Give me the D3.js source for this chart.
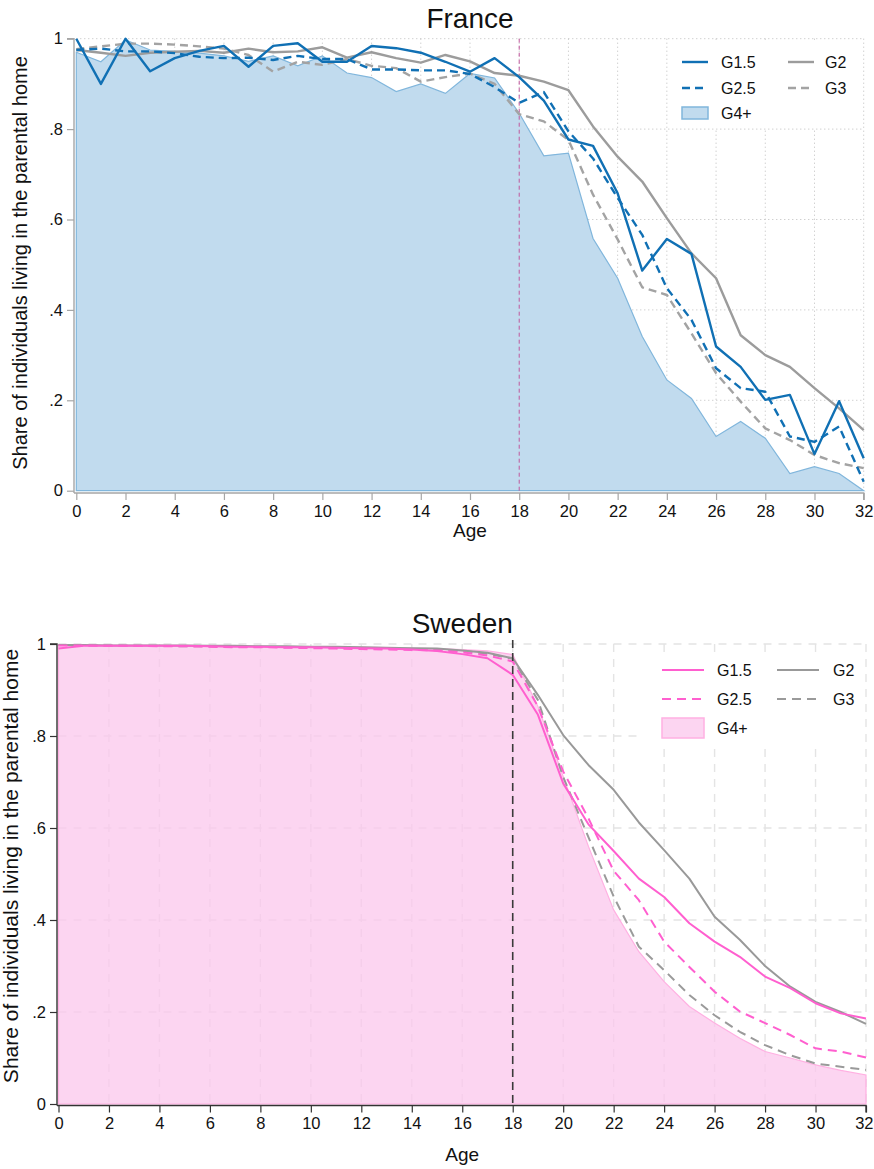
<!DOCTYPE html>
<html>
<head>
<meta charset="utf-8">
<script src="https://cdn.jsdelivr.net/npm/d3@7"></script>
<style>
  body { margin: 0; background: #fff; }
  svg { display: block; font-family: "Liberation Sans", Arial, Helvetica, sans-serif; }
</style>
</head>
<body>
<svg id="chart" width="874" height="1169"></svg>
<script>
// ---- data -----------------------------------------------------------
const ages = [0,1,2,3,4,5,6,7,8,9,10,11,12,13,14,15,16,17,18,19,20,21,22,23,24,25,26,27,28,29,30,31,32];
const xTicks = [0,2,4,6,8,10,12,14,16,18,20,22,24,26,28,30,32];
const yTicks = [0, 0.2, 0.4, 0.6, 0.8, 1];
const yTickLabels = ["0", ".2", ".4", ".6", ".8", "1"];
const legendLabels = ["G1.5", "G2", "G2.5", "G3", "G4+"];
const cutoffAge = 18;

const franceG15 = [1.000,0.900,1.000,0.928,0.957,0.973,0.984,0.938,0.984,0.990,0.949,0.949,0.984,0.979,0.969,0.949,0.927,0.957,0.915,0.863,0.777,0.763,0.658,0.487,0.557,0.524,0.319,0.274,0.201,0.212,0.081,0.198,0.072];
const franceG2  = [0.975,0.969,0.962,0.969,0.971,0.973,0.969,0.978,0.970,0.972,0.981,0.958,0.970,0.957,0.947,0.964,0.950,0.924,0.918,0.905,0.886,0.806,0.739,0.684,0.603,0.525,0.470,0.344,0.300,0.274,0.227,0.182,0.134];
const franceG25 = [0.975,0.978,0.972,0.972,0.968,0.960,0.957,0.958,0.953,0.962,0.955,0.955,0.932,0.932,0.930,0.930,0.922,0.893,0.858,0.882,0.795,0.735,0.648,0.566,0.448,0.378,0.271,0.227,0.219,0.120,0.108,0.142,0.020];
const franceG3  = [0.977,0.983,0.989,0.989,0.987,0.983,0.978,0.964,0.927,0.949,0.942,0.955,0.940,0.935,0.905,0.915,0.923,0.900,0.833,0.817,0.776,0.655,0.556,0.450,0.433,0.348,0.260,0.197,0.138,0.112,0.079,0.061,0.050];
const franceG4  = [0.970,0.949,0.997,0.975,0.972,0.968,0.962,0.950,0.962,0.940,0.962,0.924,0.914,0.883,0.900,0.879,0.923,0.913,0.835,0.741,0.747,0.558,0.470,0.341,0.245,0.204,0.120,0.153,0.116,0.038,0.053,0.038,0.000];

const swedenG15 = [0.990,0.996,0.996,0.996,0.996,0.996,0.995,0.994,0.994,0.993,0.993,0.992,0.991,0.990,0.988,0.985,0.978,0.969,0.933,0.846,0.697,0.608,0.550,0.490,0.450,0.393,0.353,0.320,0.277,0.252,0.219,0.197,0.186];
const swedenG2  = [0.998,0.998,0.997,0.997,0.997,0.997,0.996,0.996,0.995,0.995,0.994,0.994,0.993,0.992,0.991,0.990,0.986,0.981,0.969,0.889,0.802,0.737,0.683,0.612,0.552,0.490,0.407,0.357,0.300,0.255,0.222,0.200,0.174];
const swedenG25 = [0.997,0.997,0.996,0.996,0.995,0.995,0.994,0.993,0.993,0.992,0.991,0.990,0.989,0.988,0.987,0.986,0.982,0.975,0.962,0.864,0.723,0.621,0.507,0.443,0.353,0.298,0.244,0.201,0.176,0.150,0.121,0.114,0.101];
const swedenG3  = [0.998,0.997,0.997,0.996,0.996,0.995,0.995,0.994,0.994,0.993,0.993,0.992,0.991,0.990,0.989,0.988,0.985,0.979,0.968,0.878,0.711,0.580,0.451,0.342,0.291,0.237,0.193,0.157,0.128,0.106,0.088,0.081,0.074];
const swedenG4  = [0.998,0.998,0.997,0.997,0.997,0.996,0.996,0.995,0.995,0.995,0.994,0.994,0.993,0.992,0.991,0.990,0.988,0.985,0.977,0.864,0.712,0.560,0.422,0.331,0.266,0.212,0.176,0.143,0.114,0.100,0.085,0.073,0.063];

// ---- drawing --------------------------------------------------------
const svg = d3.select("#chart");
const pageWidth = 874;

function drawPanel(p) {
  const g = svg.append("g");
  const x = d3.scaleLinear().domain([0, 32]).range([p.left, p.right]);
  const y = d3.scaleLinear().domain([0, 1]).range([p.bottom, p.top]);

  // grid
  const grid = g.append("g");
  grid.selectAll("line.h").data(yTicks.filter(v => v > 0)).join("line")
    .attr("x1", p.left).attr("x2", p.right)
    .attr("y1", d => y(d)).attr("y2", d => y(d))
    .attr("stroke", p.gridColor).attr("stroke-width", p.gridWidth)
    .attr("stroke-dasharray", p.gridDash);
  grid.selectAll("line.v").data(xTicks.filter(v => v > 0)).join("line")
    .attr("x1", d => x(d)).attr("x2", d => x(d))
    .attr("y1", p.top).attr("y2", p.bottom)
    .attr("stroke", p.gridColor).attr("stroke-width", p.gridWidth)
    .attr("stroke-dasharray", p.gridDash);

  // legend backdrop hides the grid behind the key
  g.append("rect")
    .attr("x", p.legendBox[0]).attr("y", p.legendBox[1])
    .attr("width", p.legendBox[2]).attr("height", p.legendBox[3])
    .attr("fill", "#fff");

  // G4+ area
  const area = d3.area().x((d, i) => x(ages[i])).y0(y(0)).y1(d => y(d));
  g.append("path").datum(p.series.g4)
    .attr("d", area)
    .attr("fill", p.areaFill).attr("fill-opacity", p.areaOpacity)
    .attr("stroke", p.areaStroke).attr("stroke-width", 1.2);

  const cutoff = () => g.append("line")
    .attr("x1", x(cutoffAge)).attr("x2", x(cutoffAge))
    .attr("y1", p.cutTop).attr("y2", p.bottom)
    .attr("stroke", p.cutColor).attr("stroke-width", p.cutWidth)
    .attr("stroke-dasharray", p.cutDash);
  if (!p.cutOnTop) cutoff();

  const line = d3.line().x((d, i) => x(ages[i])).y(d => y(d));
  const lines = [
    { data: p.series.g2,  color: p.gray, dash: null },
    { data: p.series.g3,  color: p.gray2, dash: p.dash },
    { data: p.series.g25, color: p.main, dash: p.dash },
    { data: p.series.g15, color: p.main, dash: null }
  ];
  lines.forEach(s => {
    g.append("path").datum(s.data)
      .attr("d", line)
      .attr("fill", "none")
      .attr("stroke", s.color)
      .attr("stroke-width", p.lineWidth)
      .attr("stroke-linejoin", "round")
      .attr("stroke-dasharray", s.dash);
  });
  if (p.cutOnTop) cutoff();

  // axes
  const yAxis = d3.axisLeft(y).tickValues(yTicks).tickFormat((d, i) => yTickLabels[i])
    .tickSize(7).tickPadding(4);
  const xAxis = d3.axisBottom(x).tickValues(xTicks).tickFormat(d3.format("d"))
    .tickSize(7).tickPadding(5);
  const ya = g.append("g").attr("transform", `translate(${p.axisX},0)`).call(yAxis);
  const xa = g.append("g").attr("transform", `translate(0,${p.axisY})`).call(xAxis);
  [ya, xa].forEach(a => {
    a.select(".domain").attr("stroke", p.axisColor).attr("stroke-width", 1.4);
    a.selectAll(".tick line").attr("stroke", p.axisColor).attr("stroke-width", 1.2);
    a.selectAll(".tick text").attr("fill", "#111").style("font-size", "16.5px")
      .style("font-family", '"Liberation Sans", Arial, sans-serif');
  });
  ya.select(".domain").attr("d", `M-7,${p.top}H0V${p.axisY}`);
  xa.select(".domain").attr("d", `M${p.axisX},0H${p.right}V7`);
  // keep the last tick label inside the page
  xa.selectAll(".tick text").each(function () {
    const b = this.getBBox();
    const tx = x(d3.select(this.parentNode).datum());
    const over = tx + b.x + b.width - (pageWidth - 1);
    if (over > 0) d3.select(this).attr("dx", -over);
  });

  // titles
  g.append("text").attr("x", (p.left + p.right) / 2).attr("y", p.titleY)
    .attr("text-anchor", "middle").style("font-size", "28px").attr("fill", "#111")
    .text(p.title);
  g.append("text").attr("x", (p.left + p.right) / 2).attr("y", p.xTitleY)
    .attr("text-anchor", "middle").style("font-size", "19px").attr("fill", "#111")
    .text("Age");
  g.append("text")
    .attr("transform", `translate(${p.yTitleX},${p.yTitleY}) rotate(-90)`)
    .attr("text-anchor", "middle").style("font-size", p.yTitleSize + "px").attr("fill", "#111")
    .text("Share of individuals living in the parental home");

  // legend
  const L = p.legend;
  const entries = [
    { label: legendLabels[0], col: 0, row: 0, color: p.main, dash: null },
    { label: legendLabels[1], col: 1, row: 0, color: p.gray, dash: null },
    { label: legendLabels[2], col: 0, row: 1, color: p.main, dash: p.dash },
    { label: legendLabels[3], col: 1, row: 1, color: p.gray2, dash: p.dash },
    { label: legendLabels[4], col: 0, row: 2, area: true }
  ];
  entries.forEach(e => {
    const sx = L.cols[e.col], ry = L.rows[e.row];
    if (e.area) {
      g.append("rect").attr("x", sx).attr("y", ry - L.boxH / 2)
        .attr("width", L.sampleW).attr("height", L.boxH)
        .attr("fill", p.areaFill).attr("fill-opacity", p.areaOpacity)
        .attr("stroke", p.areaStroke).attr("stroke-width", 1.5);
    } else {
      g.append("line").attr("x1", sx).attr("x2", sx + L.sampleW)
        .attr("y1", ry).attr("y2", ry)
        .attr("stroke", e.color).attr("stroke-width", p.lineWidth)
        .attr("stroke-dasharray", e.dash);
    }
    g.append("text").attr("x", L.textX[e.col]).attr("y", ry)
      .attr("dominant-baseline", "central").style("font-size", L.font + "px")
      .attr("fill", "#111").text(e.label);
  });
}

drawPanel({
  title: "France", titleY: 28, xTitleY: 537, yTitleX: 27, yTitleY: 263, yTitleSize: 20,
  left: 76.3, right: 863.7, top: 38.7, bottom: 490.7,
  axisX: 74, axisY: 493, axisColor: "#a6a6a6",
  gridColor: "#bdbdbd", gridWidth: 1, gridDash: "1,3",
  main: "#1070b4", gray: "#9c9c9c", gray2: "#a3a3a3",
  areaFill: "#c1dbee", areaOpacity: 1, areaStroke: "#80b6dc",
  lineWidth: 2.4, dash: "8,5",
  cutColor: "#c0579c", cutWidth: 1, cutDash: "4,3", cutTop: 38.7, cutOnTop: false,
  legendBox: [670, 41, 191, 87],
  legend: { cols: [682, 788], textX: [721, 825], rows: [62, 88, 113], sampleW: 26, boxH: 12, font: 16 },
  series: { g15: franceG15, g2: franceG2, g25: franceG25, g3: franceG3, g4: franceG4 }
});

drawPanel({
  title: "Sweden", titleY: 633, xTitleY: 1161, yTitleX: 18, yTitleY: 866, yTitleSize: 21,
  left: 58.5, right: 866, top: 644, bottom: 1104,
  axisX: 57, axisY: 1105.5, axisColor: "#333",
  gridColor: "#e4e4e4", gridWidth: 1.4, gridDash: "8,7",
  main: "#ff5fcf", gray: "#999999", gray2: "#9a9a9a",
  areaFill: "#fbc7ec", areaOpacity: 0.75, areaStroke: "#ffb0e2",
  lineWidth: 2, dash: "9,6",
  cutColor: "#3a3a3a", cutWidth: 1.6, cutDash: "8,5", cutTop: 640, cutOnTop: true,
  legendBox: [640, 652, 222, 92],
  legend: { cols: [662, 777], textX: [717, 833], rows: [670, 699, 728], sampleW: 42, boxH: 20, font: 16 },
  series: { g15: swedenG15, g2: swedenG2, g25: swedenG25, g3: swedenG3, g4: swedenG4 }
});
</script>
</body>
</html>
